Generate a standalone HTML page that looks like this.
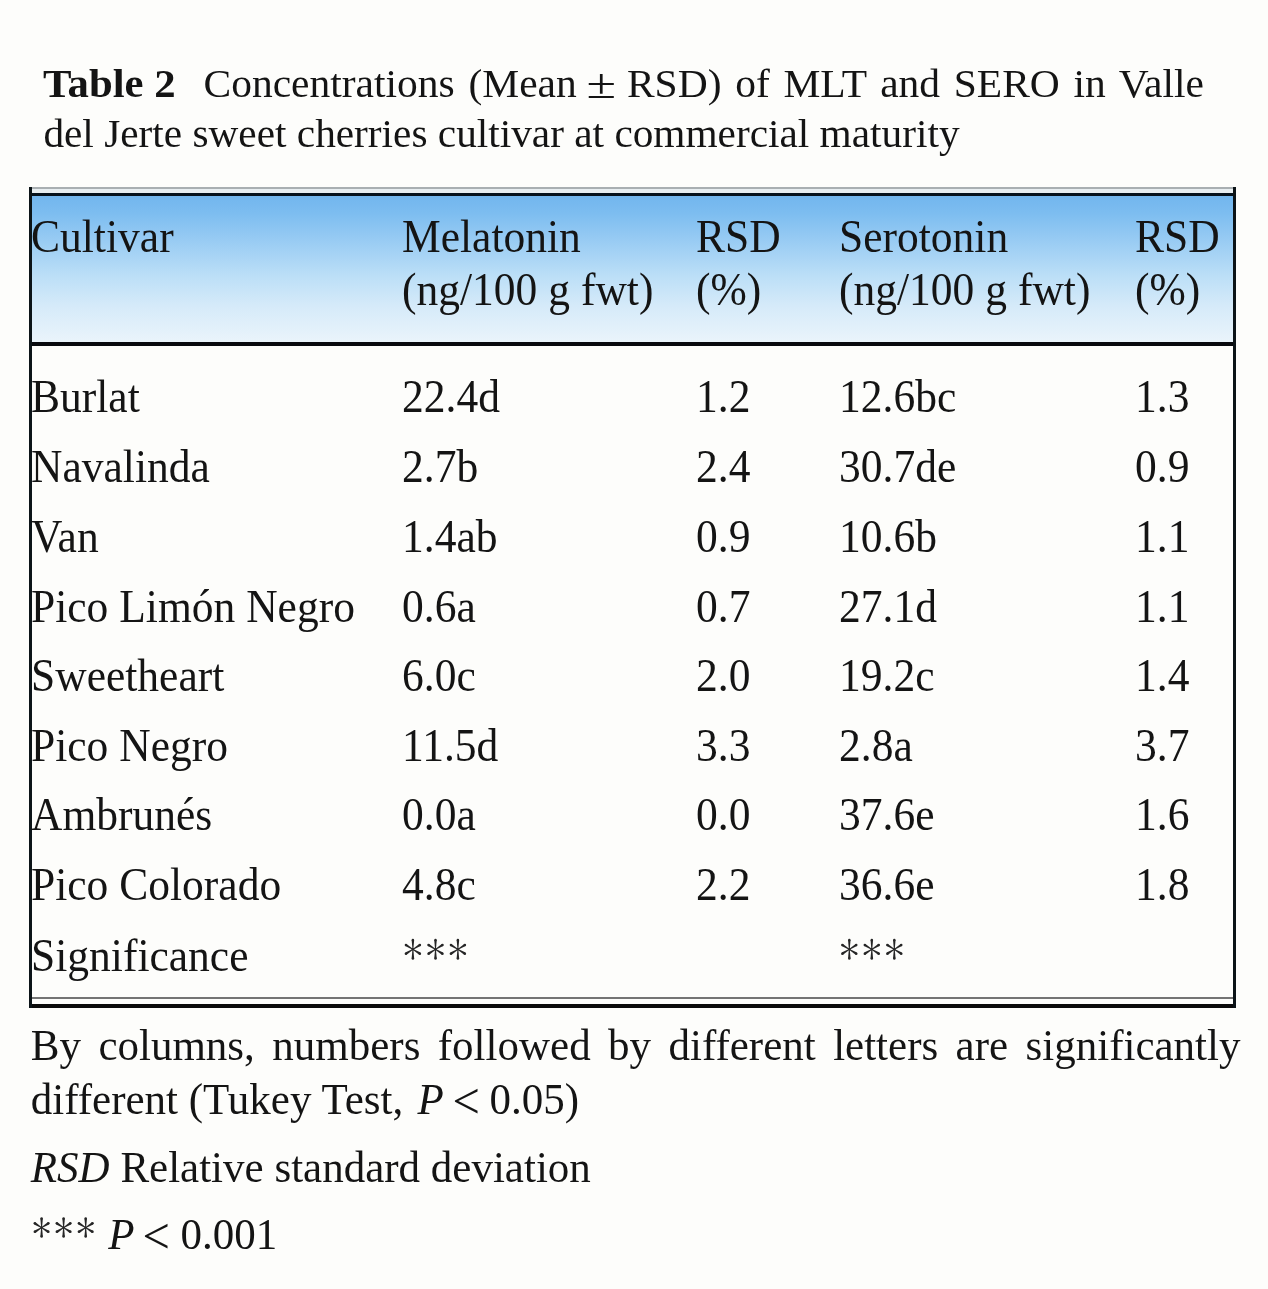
<!DOCTYPE html>
<html><head><meta charset="utf-8">
<style>
html,body{margin:0;padding:0;}
body{width:1268px;height:1289px;background:#fdfdfb;position:relative;overflow:hidden;
 font-family:"Liberation Serif", serif;color:#141414;}
.t{position:absolute;white-space:nowrap;}
.j{text-align:justify;text-align-last:justify;white-space:normal;}
.hdr{position:absolute;left:29px;top:196px;width:1207px;height:145.5px;
 background:linear-gradient(to bottom,#72b6ee 0%,#7dbdf0 12%,#9fcff4 35%,#bcdff7 55%,#d5eaf9 75%,#eaf4fb 100%);}
.ln{position:absolute;}
#wrap{position:absolute;left:0;top:0;width:1268px;height:1289px;filter:blur(0.45px);}
.ast{position:absolute;left:0;top:0;}
.lt{display:inline-block;transform:translate(-1px,2.2px) scale(1.13,1.15);}
.pm{display:inline-block;transform:scale(1.3,1.05);}
</style></head><body>
<div id="wrap">
<div class="hdr"></div>
<!-- top thin gray rule -->
<div class="ln" style="left:29px;top:186.5px;width:1207px;height:2px;background:#a9afb2"></div>
<div class="ln" style="left:29px;top:188.5px;width:1207px;height:4px;background:#e8eef1"></div>
<!-- top black rule -->
<div class="ln" style="left:29px;top:192.5px;width:1207px;height:3.5px;background:#06121c"></div>
<!-- header bottom rule -->
<div class="ln" style="left:29px;top:341.5px;width:1207px;height:4px;background:#080a0e"></div>
<!-- bottom gray rule -->
<div class="ln" style="left:29px;top:997px;width:1207px;height:2px;background:#747474"></div>
<!-- bottom black rule -->
<div class="ln" style="left:29px;top:1004px;width:1207px;height:3.5px;background:#0a0a0a"></div>
<!-- left / right borders -->
<div class="ln" style="left:29px;top:187px;width:3px;height:820.5px;background:#0c1418"></div>
<div class="ln" style="left:1233px;top:187px;width:3px;height:820.5px;background:#0c1418"></div>
<div class="t " style="left:43.4px;top:62.9px;font-size:41.5px;line-height:41.5px;transform:scale(1.03,0.96);transform-origin:0 34.76px;"><b>Table 2</b></div>
<div class="t j" style="left:203.5px;top:62.6px;font-size:41.5px;line-height:41.5px;transform:scale(1.0,0.96);transform-origin:0 34.76px;width:1000.5px;">Concentrations (Mean <span class="pm">&plusmn;</span> RSD) of MLT and SERO in Valle</div>
<div class="t " style="left:43.4px;top:112.7px;font-size:41.3px;line-height:41.3px;transform:scale(1.0,0.95);transform-origin:0 34.59px;">del Jerte sweet cherries cultivar at commercial maturity</div>
<div class="t " style="left:30.8px;top:216.3px;font-size:43px;line-height:43px;transform:scale(1.012,1.07);transform-origin:0 36.01px;">Cultivar</div>
<div class="t " style="left:401.5px;top:216.3px;font-size:43px;line-height:43px;transform:scale(1.012,1.07);transform-origin:0 36.01px;">Melatonin</div>
<div class="t " style="left:401.5px;top:269.0px;font-size:43px;line-height:43px;transform:scale(1.012,1.07);transform-origin:0 36.01px;">(ng/100 g fwt)</div>
<div class="t " style="left:695.7px;top:216.3px;font-size:43px;line-height:43px;transform:scale(1.012,1.07);transform-origin:0 36.01px;">RSD</div>
<div class="t " style="left:695.7px;top:269.0px;font-size:43px;line-height:43px;transform:scale(1.012,1.07);transform-origin:0 36.01px;">(%)</div>
<div class="t " style="left:838.8px;top:216.3px;font-size:43px;line-height:43px;transform:scale(1.012,1.07);transform-origin:0 36.01px;">Serotonin</div>
<div class="t " style="left:838.8px;top:269.0px;font-size:43px;line-height:43px;transform:scale(1.012,1.07);transform-origin:0 36.01px;">(ng/100 g fwt)</div>
<div class="t " style="left:1134.5px;top:216.3px;font-size:43px;line-height:43px;transform:scale(1.012,1.07);transform-origin:0 36.01px;">RSD</div>
<div class="t " style="left:1134.5px;top:269.0px;font-size:43px;line-height:43px;transform:scale(1.012,1.07);transform-origin:0 36.01px;">(%)</div>
<div class="t " style="left:31.3px;top:375.5px;font-size:43px;line-height:43px;transform:scale(1.012,1.07);transform-origin:0 36.01px;">Burlat</div>
<div class="t " style="left:401.5px;top:375.5px;font-size:43px;line-height:43px;transform:scale(1.012,1.07);transform-origin:0 36.01px;">22.4d</div>
<div class="t " style="left:695.7px;top:375.5px;font-size:43px;line-height:43px;transform:scale(1.012,1.07);transform-origin:0 36.01px;">1.2</div>
<div class="t " style="left:838.8px;top:375.5px;font-size:43px;line-height:43px;transform:scale(1.012,1.07);transform-origin:0 36.01px;">12.6bc</div>
<div class="t " style="left:1134.5px;top:375.5px;font-size:43px;line-height:43px;transform:scale(1.012,1.07);transform-origin:0 36.01px;">1.3</div>
<div class="t " style="left:31.3px;top:445.8px;font-size:43px;line-height:43px;transform:scale(1.012,1.07);transform-origin:0 36.01px;">Navalinda</div>
<div class="t " style="left:401.5px;top:445.8px;font-size:43px;line-height:43px;transform:scale(1.012,1.07);transform-origin:0 36.01px;">2.7b</div>
<div class="t " style="left:695.7px;top:445.8px;font-size:43px;line-height:43px;transform:scale(1.012,1.07);transform-origin:0 36.01px;">2.4</div>
<div class="t " style="left:838.8px;top:445.8px;font-size:43px;line-height:43px;transform:scale(1.012,1.07);transform-origin:0 36.01px;">30.7de</div>
<div class="t " style="left:1134.5px;top:445.8px;font-size:43px;line-height:43px;transform:scale(1.012,1.07);transform-origin:0 36.01px;">0.9</div>
<div class="t " style="left:31.3px;top:516.0px;font-size:43px;line-height:43px;transform:scale(1.012,1.07);transform-origin:0 36.01px;">Van</div>
<div class="t " style="left:401.5px;top:516.0px;font-size:43px;line-height:43px;transform:scale(1.012,1.07);transform-origin:0 36.01px;">1.4ab</div>
<div class="t " style="left:695.7px;top:516.0px;font-size:43px;line-height:43px;transform:scale(1.012,1.07);transform-origin:0 36.01px;">0.9</div>
<div class="t " style="left:838.8px;top:516.0px;font-size:43px;line-height:43px;transform:scale(1.012,1.07);transform-origin:0 36.01px;">10.6b</div>
<div class="t " style="left:1134.5px;top:516.0px;font-size:43px;line-height:43px;transform:scale(1.012,1.07);transform-origin:0 36.01px;">1.1</div>
<div class="t " style="left:31.3px;top:585.5px;font-size:43px;line-height:43px;transform:scale(1.012,1.07);transform-origin:0 36.01px;">Pico Lim&oacute;n Negro</div>
<div class="t " style="left:401.5px;top:585.5px;font-size:43px;line-height:43px;transform:scale(1.012,1.07);transform-origin:0 36.01px;">0.6a</div>
<div class="t " style="left:695.7px;top:585.5px;font-size:43px;line-height:43px;transform:scale(1.012,1.07);transform-origin:0 36.01px;">0.7</div>
<div class="t " style="left:838.8px;top:585.5px;font-size:43px;line-height:43px;transform:scale(1.012,1.07);transform-origin:0 36.01px;">27.1d</div>
<div class="t " style="left:1134.5px;top:585.5px;font-size:43px;line-height:43px;transform:scale(1.012,1.07);transform-origin:0 36.01px;">1.1</div>
<div class="t " style="left:31.3px;top:654.8px;font-size:43px;line-height:43px;transform:scale(1.012,1.07);transform-origin:0 36.01px;">Sweetheart</div>
<div class="t " style="left:401.5px;top:654.8px;font-size:43px;line-height:43px;transform:scale(1.012,1.07);transform-origin:0 36.01px;">6.0c</div>
<div class="t " style="left:695.7px;top:654.8px;font-size:43px;line-height:43px;transform:scale(1.012,1.07);transform-origin:0 36.01px;">2.0</div>
<div class="t " style="left:838.8px;top:654.8px;font-size:43px;line-height:43px;transform:scale(1.012,1.07);transform-origin:0 36.01px;">19.2c</div>
<div class="t " style="left:1134.5px;top:654.8px;font-size:43px;line-height:43px;transform:scale(1.012,1.07);transform-origin:0 36.01px;">1.4</div>
<div class="t " style="left:31.3px;top:724.8px;font-size:43px;line-height:43px;transform:scale(1.012,1.07);transform-origin:0 36.01px;">Pico Negro</div>
<div class="t " style="left:401.5px;top:724.8px;font-size:43px;line-height:43px;transform:scale(1.012,1.07);transform-origin:0 36.01px;">11.5d</div>
<div class="t " style="left:695.7px;top:724.8px;font-size:43px;line-height:43px;transform:scale(1.012,1.07);transform-origin:0 36.01px;">3.3</div>
<div class="t " style="left:838.8px;top:724.8px;font-size:43px;line-height:43px;transform:scale(1.012,1.07);transform-origin:0 36.01px;">2.8a</div>
<div class="t " style="left:1134.5px;top:724.8px;font-size:43px;line-height:43px;transform:scale(1.012,1.07);transform-origin:0 36.01px;">3.7</div>
<div class="t " style="left:31.3px;top:794.0px;font-size:43px;line-height:43px;transform:scale(1.012,1.07);transform-origin:0 36.01px;">Ambrun&eacute;s</div>
<div class="t " style="left:401.5px;top:794.0px;font-size:43px;line-height:43px;transform:scale(1.012,1.07);transform-origin:0 36.01px;">0.0a</div>
<div class="t " style="left:695.7px;top:794.0px;font-size:43px;line-height:43px;transform:scale(1.012,1.07);transform-origin:0 36.01px;">0.0</div>
<div class="t " style="left:838.8px;top:794.0px;font-size:43px;line-height:43px;transform:scale(1.012,1.07);transform-origin:0 36.01px;">37.6e</div>
<div class="t " style="left:1134.5px;top:794.0px;font-size:43px;line-height:43px;transform:scale(1.012,1.07);transform-origin:0 36.01px;">1.6</div>
<div class="t " style="left:31.3px;top:864.0px;font-size:43px;line-height:43px;transform:scale(1.012,1.07);transform-origin:0 36.01px;">Pico Colorado</div>
<div class="t " style="left:401.5px;top:864.0px;font-size:43px;line-height:43px;transform:scale(1.012,1.07);transform-origin:0 36.01px;">4.8c</div>
<div class="t " style="left:695.7px;top:864.0px;font-size:43px;line-height:43px;transform:scale(1.012,1.07);transform-origin:0 36.01px;">2.2</div>
<div class="t " style="left:838.8px;top:864.0px;font-size:43px;line-height:43px;transform:scale(1.012,1.07);transform-origin:0 36.01px;">36.6e</div>
<div class="t " style="left:1134.5px;top:864.0px;font-size:43px;line-height:43px;transform:scale(1.012,1.07);transform-origin:0 36.01px;">1.8</div>
<div class="t " style="left:31.3px;top:934.7px;font-size:43px;line-height:43px;transform:scale(1.012,1.07);transform-origin:0 36.01px;">Significance</div>
<div class="t j" style="left:30.8px;top:1023.5px;font-size:43px;line-height:43px;transform:scale(1.0,1.02);transform-origin:0 36.01px;width:1209.7px;">By columns, numbers followed by different letters are significantly</div>
<div class="t " style="left:30.8px;top:1078.3px;font-size:43px;line-height:43px;transform:scale(1.0,1.02);transform-origin:0 36.01px;">different (Tukey Test, <i style="margin-left:3.5px">P</i> <span class="lt">&lt;</span> 0.05)</div>
<div class="t " style="left:30.8px;top:1145.5px;font-size:43px;line-height:43px;transform:scale(1.0,1.02);transform-origin:0 36.01px;"><i>RSD</i> Relative standard deviation</div>
<div class="t " style="left:30.8px;top:1213.0px;font-size:43px;line-height:43px;transform:scale(1.0,1.02);transform-origin:0 36.01px;"><span style="visibility:hidden">***</span> <i style="margin-left:2.3px">P</i> <span class="lt">&lt;</span> 0.001</div>

<svg class="ast" width="1268" height="1289" viewBox="0 0 1268 1289" fill="#262626"><polygon points="413.35,949.30 414.15,940.05 411.65,940.05 412.45,949.30"/><circle cx="412.90" cy="940.05" r="1.25"/><polygon points="412.45,949.30 411.65,958.55 414.15,958.55 413.35,949.30"/><circle cx="412.90" cy="958.55" r="1.25"/><polygon points="413.14,949.68 420.54,946.00 419.22,943.88 412.66,948.92"/><circle cx="419.88" cy="944.94" r="1.25"/><polygon points="413.14,948.92 406.58,943.88 405.26,946.00 412.66,949.68"/><circle cx="405.92" cy="944.94" r="1.25"/><polygon points="412.66,948.92 405.26,952.60 406.58,954.72 413.14,949.68"/><circle cx="405.92" cy="953.66" r="1.25"/><polygon points="412.66,949.68 419.22,954.72 420.54,952.60 413.14,948.92"/><circle cx="419.88" cy="953.66" r="1.25"/><circle cx="412.90" cy="949.30" r="1.2"/><polygon points="435.95,949.30 436.75,940.05 434.25,940.05 435.05,949.30"/><circle cx="435.50" cy="940.05" r="1.25"/><polygon points="435.05,949.30 434.25,958.55 436.75,958.55 435.95,949.30"/><circle cx="435.50" cy="958.55" r="1.25"/><polygon points="435.74,949.68 443.14,946.00 441.82,943.88 435.26,948.92"/><circle cx="442.48" cy="944.94" r="1.25"/><polygon points="435.74,948.92 429.18,943.88 427.86,946.00 435.26,949.68"/><circle cx="428.52" cy="944.94" r="1.25"/><polygon points="435.26,948.92 427.86,952.60 429.18,954.72 435.74,949.68"/><circle cx="428.52" cy="953.66" r="1.25"/><polygon points="435.26,949.68 441.82,954.72 443.14,952.60 435.74,948.92"/><circle cx="442.48" cy="953.66" r="1.25"/><circle cx="435.50" cy="949.30" r="1.2"/><polygon points="458.35,949.30 459.15,940.05 456.65,940.05 457.45,949.30"/><circle cx="457.90" cy="940.05" r="1.25"/><polygon points="457.45,949.30 456.65,958.55 459.15,958.55 458.35,949.30"/><circle cx="457.90" cy="958.55" r="1.25"/><polygon points="458.14,949.68 465.54,946.00 464.22,943.88 457.66,948.92"/><circle cx="464.88" cy="944.94" r="1.25"/><polygon points="458.14,948.92 451.58,943.88 450.26,946.00 457.66,949.68"/><circle cx="450.92" cy="944.94" r="1.25"/><polygon points="457.66,948.92 450.26,952.60 451.58,954.72 458.14,949.68"/><circle cx="450.92" cy="953.66" r="1.25"/><polygon points="457.66,949.68 464.22,954.72 465.54,952.60 458.14,948.92"/><circle cx="464.88" cy="953.66" r="1.25"/><circle cx="457.90" cy="949.30" r="1.2"/><polygon points="849.75,949.30 850.55,940.05 848.05,940.05 848.85,949.30"/><circle cx="849.30" cy="940.05" r="1.25"/><polygon points="848.85,949.30 848.05,958.55 850.55,958.55 849.75,949.30"/><circle cx="849.30" cy="958.55" r="1.25"/><polygon points="849.54,949.68 856.94,946.00 855.62,943.88 849.06,948.92"/><circle cx="856.28" cy="944.94" r="1.25"/><polygon points="849.54,948.92 842.98,943.88 841.66,946.00 849.06,949.68"/><circle cx="842.32" cy="944.94" r="1.25"/><polygon points="849.06,948.92 841.66,952.60 842.98,954.72 849.54,949.68"/><circle cx="842.32" cy="953.66" r="1.25"/><polygon points="849.06,949.68 855.62,954.72 856.94,952.60 849.54,948.92"/><circle cx="856.28" cy="953.66" r="1.25"/><circle cx="849.30" cy="949.30" r="1.2"/><polygon points="872.25,949.30 873.05,940.05 870.55,940.05 871.35,949.30"/><circle cx="871.80" cy="940.05" r="1.25"/><polygon points="871.35,949.30 870.55,958.55 873.05,958.55 872.25,949.30"/><circle cx="871.80" cy="958.55" r="1.25"/><polygon points="872.04,949.68 879.44,946.00 878.12,943.88 871.56,948.92"/><circle cx="878.78" cy="944.94" r="1.25"/><polygon points="872.04,948.92 865.48,943.88 864.16,946.00 871.56,949.68"/><circle cx="864.82" cy="944.94" r="1.25"/><polygon points="871.56,948.92 864.16,952.60 865.48,954.72 872.04,949.68"/><circle cx="864.82" cy="953.66" r="1.25"/><polygon points="871.56,949.68 878.12,954.72 879.44,952.60 872.04,948.92"/><circle cx="878.78" cy="953.66" r="1.25"/><circle cx="871.80" cy="949.30" r="1.2"/><polygon points="894.75,949.30 895.55,940.05 893.05,940.05 893.85,949.30"/><circle cx="894.30" cy="940.05" r="1.25"/><polygon points="893.85,949.30 893.05,958.55 895.55,958.55 894.75,949.30"/><circle cx="894.30" cy="958.55" r="1.25"/><polygon points="894.54,949.68 901.94,946.00 900.62,943.88 894.06,948.92"/><circle cx="901.28" cy="944.94" r="1.25"/><polygon points="894.54,948.92 887.98,943.88 886.66,946.00 894.06,949.68"/><circle cx="887.32" cy="944.94" r="1.25"/><polygon points="894.06,948.92 886.66,952.60 887.98,954.72 894.54,949.68"/><circle cx="887.32" cy="953.66" r="1.25"/><polygon points="894.06,949.68 900.62,954.72 901.94,952.60 894.54,948.92"/><circle cx="901.28" cy="953.66" r="1.25"/><circle cx="894.30" cy="949.30" r="1.2"/><polygon points="42.05,1227.60 42.85,1218.60 40.35,1218.60 41.15,1227.60"/><circle cx="41.60" cy="1218.60" r="1.25"/><polygon points="41.15,1227.60 40.35,1236.60 42.85,1236.60 42.05,1227.60"/><circle cx="41.60" cy="1236.60" r="1.25"/><polygon points="41.84,1227.98 49.06,1224.42 47.73,1222.30 41.36,1227.22"/><circle cx="48.39" cy="1223.36" r="1.25"/><polygon points="41.84,1227.22 35.47,1222.30 34.14,1224.42 41.36,1227.98"/><circle cx="34.81" cy="1223.36" r="1.25"/><polygon points="41.36,1227.22 34.14,1230.78 35.47,1232.90 41.84,1227.98"/><circle cx="34.81" cy="1231.84" r="1.25"/><polygon points="41.36,1227.98 47.73,1232.90 49.06,1230.78 41.84,1227.22"/><circle cx="48.39" cy="1231.84" r="1.25"/><circle cx="41.60" cy="1227.60" r="1.2"/><polygon points="64.05,1227.60 64.85,1218.60 62.35,1218.60 63.15,1227.60"/><circle cx="63.60" cy="1218.60" r="1.25"/><polygon points="63.15,1227.60 62.35,1236.60 64.85,1236.60 64.05,1227.60"/><circle cx="63.60" cy="1236.60" r="1.25"/><polygon points="63.84,1227.98 71.06,1224.42 69.73,1222.30 63.36,1227.22"/><circle cx="70.39" cy="1223.36" r="1.25"/><polygon points="63.84,1227.22 57.47,1222.30 56.14,1224.42 63.36,1227.98"/><circle cx="56.81" cy="1223.36" r="1.25"/><polygon points="63.36,1227.22 56.14,1230.78 57.47,1232.90 63.84,1227.98"/><circle cx="56.81" cy="1231.84" r="1.25"/><polygon points="63.36,1227.98 69.73,1232.90 71.06,1230.78 63.84,1227.22"/><circle cx="70.39" cy="1231.84" r="1.25"/><circle cx="63.60" cy="1227.60" r="1.2"/><polygon points="86.15,1227.60 86.95,1218.60 84.45,1218.60 85.25,1227.60"/><circle cx="85.70" cy="1218.60" r="1.25"/><polygon points="85.25,1227.60 84.45,1236.60 86.95,1236.60 86.15,1227.60"/><circle cx="85.70" cy="1236.60" r="1.25"/><polygon points="85.94,1227.98 93.16,1224.42 91.83,1222.30 85.46,1227.22"/><circle cx="92.49" cy="1223.36" r="1.25"/><polygon points="85.94,1227.22 79.57,1222.30 78.24,1224.42 85.46,1227.98"/><circle cx="78.91" cy="1223.36" r="1.25"/><polygon points="85.46,1227.22 78.24,1230.78 79.57,1232.90 85.94,1227.98"/><circle cx="78.91" cy="1231.84" r="1.25"/><polygon points="85.46,1227.98 91.83,1232.90 93.16,1230.78 85.94,1227.22"/><circle cx="92.49" cy="1231.84" r="1.25"/><circle cx="85.70" cy="1227.60" r="1.2"/></svg>
</div>
</body></html>
